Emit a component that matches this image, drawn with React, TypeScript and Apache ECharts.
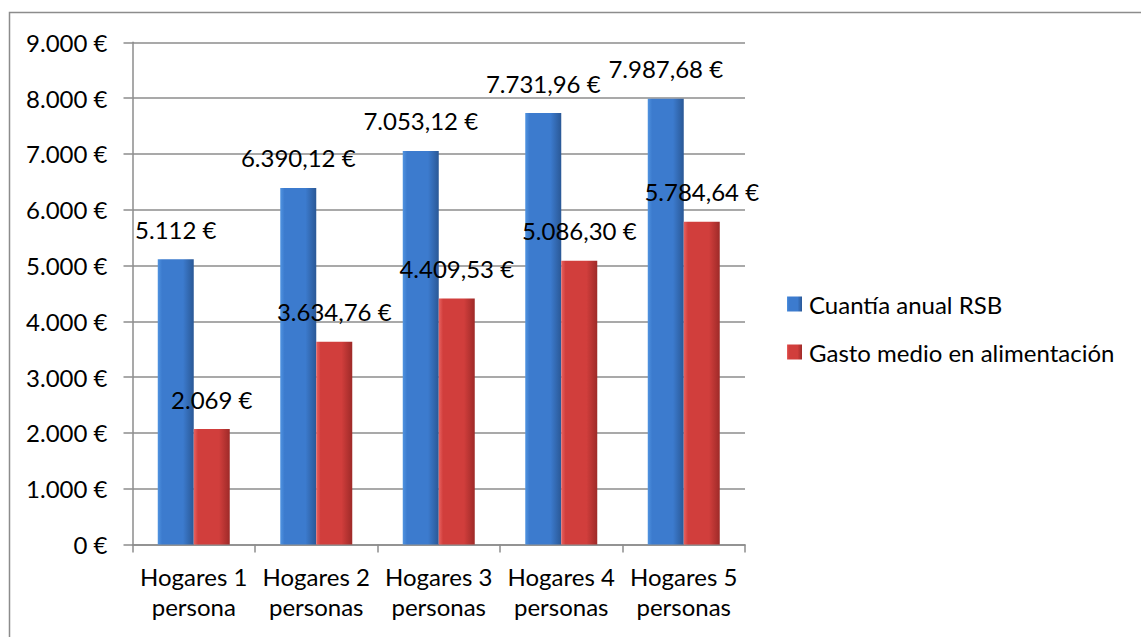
import React, { useEffect, useRef } from "react";
import * as echarts from "echarts";

const categories = ["Hogares 1\npersona", "Hogares 2\npersonas", "Hogares 3\npersonas", "Hogares 4\npersonas", "Hogares 5\npersonas"];
const seriesNames = ["Cuantía anual RSB", "Gasto medio en alimentación"];
const rsbValues = [5112, 6390.12, 7053.12, 7731.96, 7987.68];
const gastoValues = [2069, 3634.76, 4409.53, 5086.3, 5784.64];
const yMin = 0;
const yMax = 9000;
const yInterval = 1000;

const FONT = "Lato";
const FS = 24;

function fmtEuro(v: number): string {
  const isInt = Math.abs(v - Math.round(v)) < 1e-9;
  const fixed = isInt ? Math.round(v).toString() : v.toFixed(2);
  const [intPart, dec] = fixed.split(".");
  const withDots = intPart.replace(/\B(?=(\d{3})+(?!\d))/g, ".");
  return (dec ? withDots + "," + dec : withDots) + " €";
}

function grad(left: string, mid: string, right: string) {
  return new echarts.graphic.LinearGradient(0, 0, 1, 0, [
    { offset: 0, color: left },
    { offset: 0.12, color: mid },
    { offset: 0.7, color: mid },
    { offset: 1, color: right },
  ]);
}

export default function App() {
  const ref = useRef<HTMLDivElement>(null);
  useEffect(() => {
    if (!ref.current) return;
    const chart = echarts.init(ref.current, null, { renderer: "svg" });
    const labelStyle = {
      show: true,
      position: "top" as const,
      distance: 18,
      fontFamily: FONT,
      fontSize: FS,
      color: "#000",
      formatter: (p: any) => fmtEuro(p.value),
    };
    chart.setOption({
      animation: false,
      backgroundColor: "#fff",
      textStyle: { fontFamily: FONT },
      graphic: [
        {
          type: "rect",
          shape: { x: 9.5, y: 12.5, width: 1300, height: 800 },
          style: { fill: "none", stroke: "#8c8c8c", lineWidth: 1.5 },
          silent: true,
        },
      ],
      grid: { left: 132.5, right: 396, top: 42.3, bottom: 92.5, containLabel: false },
      legend: {
        orient: "vertical",
        left: 787,
        top: 292,
        padding: 0,
        itemWidth: 15,
        itemHeight: 15,
        itemGap: 24,
        icon: "rect",
        textStyle: { fontFamily: FONT, fontSize: FS, color: "#000", padding: [0, 0, 0, 2] },
        data: seriesNames,
      },
      xAxis: {
        type: "category",
        data: categories,
        boundaryGap: true,
        axisLine: { show: true, lineStyle: { color: "#8c8c8c", width: 1.5 } },
        axisTick: { show: true, length: 8, alignWithLabel: false, lineStyle: { color: "#8c8c8c", width: 1.5 } },
        axisLabel: { fontFamily: FONT, fontSize: FS, color: "#000", lineHeight: 30, margin: 17, interval: 0 },
        splitLine: { show: false },
      },
      yAxis: {
        type: "value",
        min: yMin,
        max: yMax,
        interval: yInterval,
        axisLine: { show: true, lineStyle: { color: "#8c8c8c", width: 1.5 } },
        axisTick: { show: true, length: 9, lineStyle: { color: "#8c8c8c", width: 1.5 } },
        axisLabel: { fontFamily: FONT, fontSize: FS, color: "#000", margin: 25, formatter: (v: number) => fmtEuro(v) },
        splitLine: { show: true, lineStyle: { color: "#8c8c8c", width: 1.5 } },
      },
      series: [
        {
          name: seriesNames[0],
          type: "bar",
          data: rsbValues,
          barWidth: 36,
          barGap: "0%",
          itemStyle: { color: grad("#5093e0", "#3c7bce", "#2a5896") },
          label: labelStyle,
        },
        {
          name: seriesNames[1],
          type: "bar",
          data: gastoValues,
          barWidth: 36,
          barGap: "0%",
          itemStyle: { color: grad("#e86260", "#d13e3c", "#9e2a28") },
          label: labelStyle,
        },
      ],
    });
    return () => chart.dispose();
  }, []);
  return <div ref={ref} style={{ position: "fixed", left: 0, top: 0, width: 1141, height: 637 }} />;
}
